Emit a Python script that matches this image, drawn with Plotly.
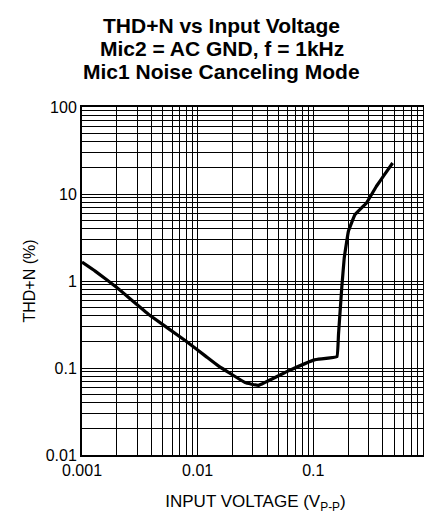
import plotly.graph_objects as go

# Curve data
input_voltage = [0.001, 0.0013, 0.002, 0.0038, 0.0079, 0.0117, 0.0152, 0.0257, 0.0334,
                 0.0603, 0.102, 0.16, 0.165, 0.176, 0.185, 0.201, 0.229, 0.288,
                 0.35, 0.412, 0.485]
thd_n = [1.65, 1.3, 0.84, 0.41, 0.204, 0.137, 0.105, 0.068, 0.063,
         0.092, 0.124, 0.135, 0.242, 0.83, 1.84, 3.73, 5.78, 7.9,
         12.2, 16.7, 22.7]

x_decades = [0.001, 0.01, 0.1, 1]
x_decade_labels = ["0.001", "0.01", "0.1", "1"]
y_decades = [0.01, 0.1, 1, 10, 100]
y_decade_labels = ["0.01", "0.1", "1", "10", "100"]

title_lines = ["THD+N vs Input Voltage", "Mic2 = AC GND, f = 1kHz", "Mic1 Noise Canceling Mode"]


def log_ticks(decades, labels):
    vals, texts = [], []
    for i, d in enumerate(decades):
        vals.append(d)
        texts.append(labels[i])
        if i < len(decades) - 1:
            for k in range(2, 10):
                vals.append(d * k)
                texts.append("")
    return vals, texts


xv, xt = log_ticks(x_decades, x_decade_labels)
yv, yt = log_ticks(y_decades, y_decade_labels)

fig = go.Figure()
fig.add_trace(go.Scatter(x=input_voltage, y=thd_n, mode="lines",
                         line=dict(color="black", width=3.2, shape="spline", smoothing=0.2),
                         showlegend=False))

font = "Liberation Sans, Arial, Helvetica, sans-serif"
W, H = 432, 514
L, R, T, B = 74, 6, 99, 67
plot_h = H - T - B

for i, line in enumerate(title_lines):
    center_px = 18 + 22.5 * i
    fig.add_annotation(text="<b>" + line + "</b>", xref="paper", yref="paper",
                       x=(W / 2 - L) / (W - L - R), y=(H - B - center_px) / plot_h,
                       xanchor="center", yanchor="middle", showarrow=False,
                       font=dict(family=font, size=21, color="black"))

fig.update_layout(
    width=W, height=H,
    margin=dict(l=L, r=R, t=T, b=B),
    paper_bgcolor="white", plot_bgcolor="white",
    font=dict(family=font, color="black"),
)
fig.update_xaxes(type="log", range=[-3, 0], tickvals=xv, ticktext=xt,
                 showgrid=True, gridcolor="black", gridwidth=1,
                 showline=True, linecolor="black", linewidth=2, mirror=True,
                 ticks="", tickfont=dict(size=16, family=font, color="black"),
                 title=dict(text="INPUT VOLTAGE (V<sub>P-P</sub>)", standoff=17,
                            font=dict(size=17, family=font, color="black")),
                 zeroline=False)
fig.update_yaxes(type="log", range=[-2, 2], tickvals=yv, ticktext=yt,
                 showgrid=True, gridcolor="black", gridwidth=1,
                 showline=True, linecolor="black", linewidth=2, mirror=True,
                 ticks="", tickfont=dict(size=16, family=font, color="black"),
                 title=dict(text="THD+N (%)", standoff=6,
                            font=dict(size=16, family=font, color="black")),
                 zeroline=False)

fig.write_html("out.html")
